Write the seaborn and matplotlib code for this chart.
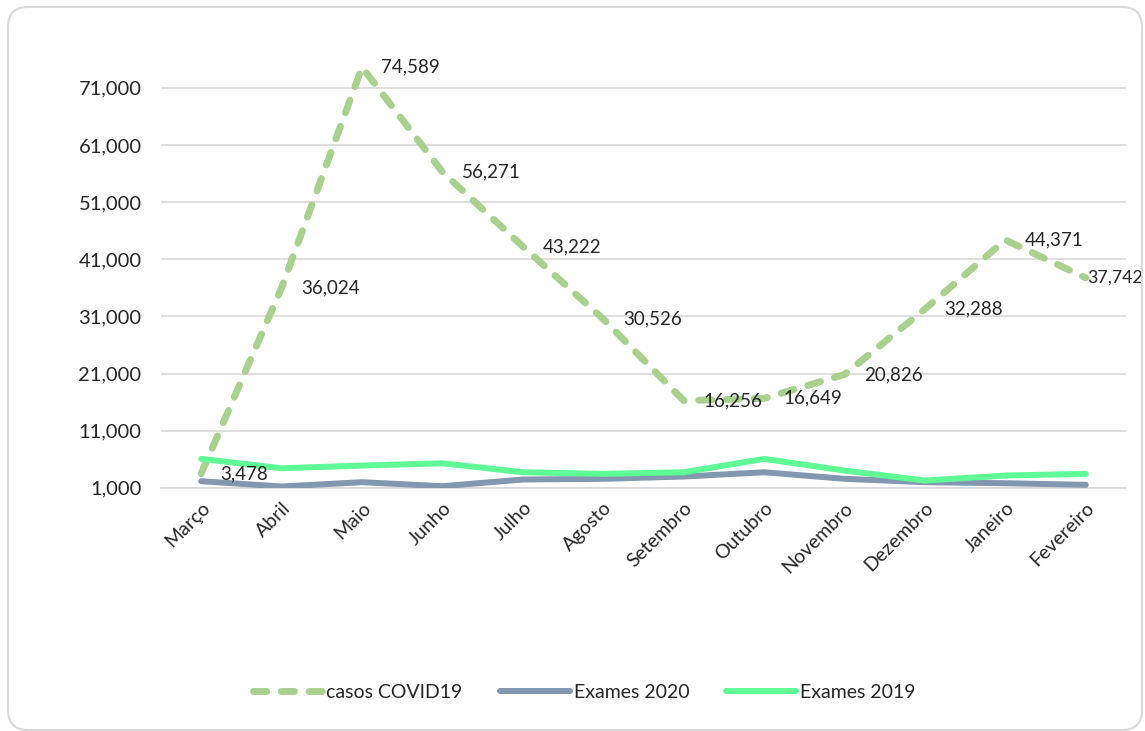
import numpy as np
import pandas as pd
import matplotlib
matplotlib.use("Agg")
import matplotlib.pyplot as plt
import seaborn as sns
from matplotlib.patches import FancyBboxPatch
from matplotlib.transforms import IdentityTransform
from matplotlib.ticker import FuncFormatter

meses = ["Março", "Abril", "Maio", "Junho", "Julho", "Agosto", "Setembro",
         "Outubro", "Novembro", "Dezembro", "Janeiro", "Fevereiro"]
casos_covid19 = [3478, 36024, 74589, 56271, 43222, 30526, 16256,
                 16649, 20826, 32288, 44371, 37742]
exames_2020 = [2150, 1230, 1980, 1280, 2450, 2570, 2970, 3720, 2570, 1980, 1800, 1520]
exames_2019 = [6060, 4420, 4890, 5290, 3720, 3440, 3720, 6060, 4020, 2270, 3150, 3440]
y_ticks = [1000, 11000, 21000, 31000, 41000, 51000, 61000, 71000]

sns.set_style("white")
plt.rcParams["font.family"] = ["Lato", "DejaVu Sans"]
text_color = "#262626"

fig = plt.figure(figsize=(11.45, 7.31), dpi=100)
ax = fig.add_axes([161 / 1145, 1 - 487.8 / 731, (1126 - 161) / 1145, (487.8 - 59.2) / 731])

x = np.arange(len(meses))
df = pd.DataFrame({"x": x, "covid": casos_covid19, "e2020": exames_2020, "e2019": exames_2019})

c_covid = "#A9D18E"
c_2020 = "#8497B0"
c_2019 = "#5FFA95"

sns.lineplot(data=df, x="x", y="covid", ax=ax, color=c_covid, linewidth=5,
             label="casos COVID19", zorder=3)
ax.lines[-1].set_dashes((1.9, 2.1))
ax.lines[-1].set_dash_capstyle("round")
sns.lineplot(data=df, x="x", y="e2020", ax=ax, color=c_2020, linewidth=4.3,
             label="Exames 2020", zorder=3)
ax.lines[-1].set_solid_capstyle("round")
sns.lineplot(data=df, x="x", y="e2019", ax=ax, color=c_2019, linewidth=4.3,
             label="Exames 2019", zorder=3)
ax.lines[-1].set_solid_capstyle("round")

last = len(casos_covid19) - 1
for i, (xi, v) in enumerate(zip(x, casos_covid19)):
    dx = 1 if i == last else 14
    fs = 12.8 if i == last else 13.5
    ax.annotate(f"{v:,}", (xi, v), xytext=(dx, 0), textcoords="offset points",
                ha="left", va="center", fontsize=fs, color=text_color,
                annotation_clip=False, zorder=4)

ax.set_xlim(-0.5, len(meses) - 0.5)
ax.set_ylim(1000, 76000)
ax.set_yticks(y_ticks)
ax.yaxis.set_major_formatter(FuncFormatter(lambda v, p: f"{int(v):,}"))
ax.set_xticks(x)
ax.set_xticklabels(meses, rotation=45, ha="right", rotation_mode="anchor")
ax.tick_params(axis="y", length=0, pad=14, labelsize=14.5, labelcolor=text_color)
ax.tick_params(axis="x", length=0, pad=8, labelsize=14, labelcolor=text_color)
ax.set_xlabel("")
ax.set_ylabel("")
ax.grid(axis="y", color="#D9D9D9", linewidth=1.2)
ax.grid(axis="x", visible=False)
for s in ["top", "right", "left"]:
    ax.spines[s].set_visible(False)
ax.spines["bottom"].set_color("#D9D9D9")
ax.spines["bottom"].set_linewidth(1.2)

leg = ax.legend(loc="center", bbox_to_anchor=(584 / 1145, 1 - 692 / 731),
                bbox_transform=fig.transFigure, ncol=3, frameon=False,
                fontsize=14, handlelength=3.6, handletextpad=0.2, columnspacing=1.9)
for t in leg.get_texts():
    t.set_color(text_color)

border = FancyBboxPatch((8, 1), 1134, 723, boxstyle="round,pad=0,rounding_size=20",
                        transform=IdentityTransform(), facecolor="none",
                        edgecolor="#D9D9D9", linewidth=1.5)
fig.add_artist(border)

fig.savefig("out.png", dpi=100)
